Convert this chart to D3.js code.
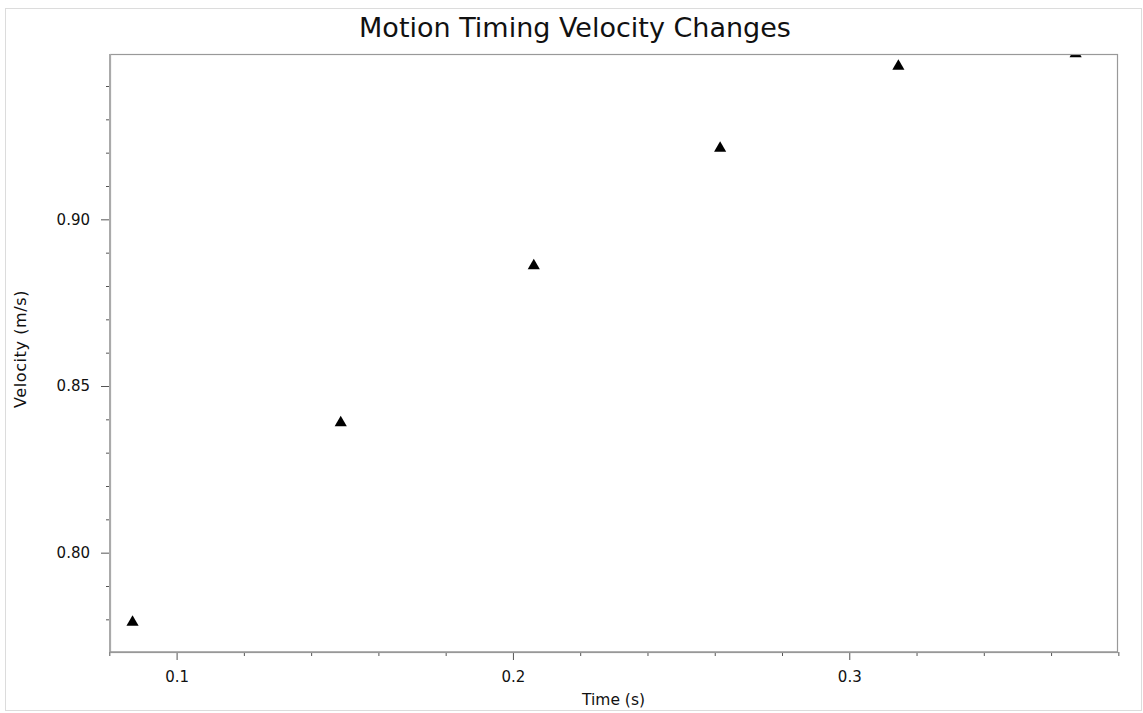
<!DOCTYPE html>
<html>
<head>
<meta charset="utf-8">
<script src="https://cdn.jsdelivr.net/npm/d3@7"></script>
<style>
  body { margin: 0; background: #fff; }
  text { font-family: "DejaVu Sans", sans-serif; fill: #111; }
</style>
</head>
<body>
<div id="chart"></div>
<script>
// data
var times = [0.0869, 0.1488, 0.2062, 0.2616, 0.3146, 0.3673];
var velocities = [0.7791, 0.8390, 0.8861, 0.9213, 0.9459, 0.9497];

var xMajorTicks = [0.1, 0.2, 0.3];
var xMinorTicks = [0.08, 0.12, 0.14, 0.16, 0.18, 0.22, 0.24, 0.26, 0.28, 0.32, 0.34, 0.36, 0.38];
var yMajorTicks = [0.80, 0.85, 0.90];
var yMinorTicks = [0.78, 0.79, 0.81, 0.82, 0.83, 0.84, 0.86, 0.87, 0.88, 0.89, 0.91, 0.92, 0.93, 0.94];

var width = 1143, height = 713;
var margin = {top: 54, right: 26, bottom: 61, left: 110};
var innerW = width - margin.left - margin.right;
var innerH = height - margin.top - margin.bottom;

var svg = d3.select("#chart").append("svg")
    .attr("width", width)
    .attr("height", height);

// outer frame
svg.append("rect")
    .attr("x", 5.5).attr("y", 8.5)
    .attr("width", 1136).attr("height", 702)
    .attr("fill", "#fff")
    .attr("stroke", "#dcdcdc");

var xScale = d3.scaleLinear()
    .domain([0.0802, 0.3796])
    .range([0, innerW]);

var yScale = d3.scaleLinear()
    .domain([0.7702, 0.9496])
    .range([innerH, 0]);

var g = svg.append("g")
    .attr("transform", `translate(${margin.left},${margin.top})`);

g.append("clipPath").attr("id", "clip")
  .append("rect")
    .attr("width", innerW).attr("height", innerH);

// y axis
g.append("g").attr("class", "axis")
    .call(d3.axisLeft(yScale).tickValues(yMinorTicks).tickSize(4).tickFormat(""));
g.append("g").attr("class", "axis")
    .call(d3.axisLeft(yScale).tickValues(yMajorTicks).tickSize(9).tickPadding(11).tickFormat(d3.format(".2f")));

// x axis
g.append("g").attr("class", "axis")
    .attr("transform", `translate(0,${innerH})`)
    .call(d3.axisBottom(xScale).tickValues(xMinorTicks).tickSize(4).tickFormat(""));
g.append("g").attr("class", "axis")
    .attr("transform", `translate(0,${innerH})`)
    .call(d3.axisBottom(xScale).tickValues(xMajorTicks).tickSize(8).tickPadding(11).tickFormat(d3.format(".1f")));

g.selectAll(".axis .domain").remove();
g.selectAll(".axis line").attr("stroke", "#555");
g.selectAll(".axis text").style("font-size", "15px").attr("fill", "#111");

// points (drawn under the frame so the clipped one shows as a dash)
var tri = d3.symbol().type(d3.symbolTriangle).size(64);
g.append("g").attr("clip-path", "url(#clip)")
  .selectAll("path")
  .data(times)
  .enter().append("path")
    .attr("d", tri)
    .attr("transform", (d, i) => `translate(${xScale(d)},${yScale(velocities[i])})`)
    .attr("fill", "#000");

// plot frame
g.append("rect")
    .attr("x", 0.5).attr("y", 0.5)
    .attr("width", innerW).attr("height", innerH)
    .attr("fill", "none")
    .attr("stroke", "#999")
    .attr("stroke-width", 1.2);
g.append("line")
    .attr("x1", 0).attr("x2", 0).attr("y1", 0).attr("y2", innerH)
    .attr("stroke", "#aaa").attr("stroke-width", 2);
g.append("line")
    .attr("x1", 0).attr("x2", innerW).attr("y1", innerH).attr("y2", innerH)
    .attr("stroke", "#999").attr("stroke-width", 1.5);

// title and labels
svg.append("text")
    .attr("x", 575).attr("y", 37)
    .attr("text-anchor", "middle")
    .style("font-size", "27px")
    .text("Motion Timing Velocity Changes");

svg.append("text")
    .attr("x", margin.left + innerW / 2).attr("y", 705)
    .attr("text-anchor", "middle")
    .style("font-size", "15.5px")
    .text("Time (s)");

svg.append("text")
    .attr("transform", "translate(26,349) rotate(-90)")
    .attr("text-anchor", "middle")
    .style("font-size", "16px")
    .style("letter-spacing", "0.6px")
    .text("Velocity (m/s)");
</script>
</body>
</html>
